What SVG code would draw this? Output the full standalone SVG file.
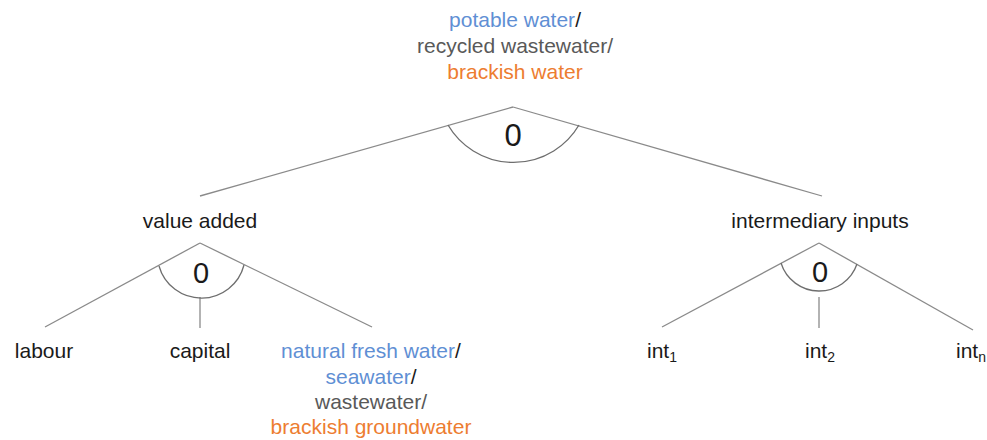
<svg xmlns="http://www.w3.org/2000/svg" width="987" height="440" viewBox="0 0 987 440">
<style>
text{font-family:"Liberation Sans",Arial,sans-serif;font-size:21px;fill:#1a1a1a;text-anchor:middle}
.z{font-size:29px}
.zt{font-size:31px}
.b{fill:#5f8fd4}
.g{fill:#595959}
.o{fill:#ed7d31}
.sub{font-size:14px}
line,path{stroke:#8a8a8a;stroke-width:1.3;fill:none}
path.arc{stroke:#6e6e6e}
</style>
<rect width="987" height="440" fill="#fff"/>
<g id="connectors">
<line x1="513" y1="107" x2="200" y2="196"/>
<line x1="513" y1="107" x2="822" y2="196"/>
<line x1="200" y1="243" x2="45" y2="327"/>
<line x1="200" y1="297" x2="200" y2="328"/>
<line x1="200" y1="243" x2="372" y2="327"/>
<line x1="819" y1="243" x2="662" y2="327"/>
<line x1="819" y1="297" x2="819" y2="328"/>
<line x1="819" y1="243" x2="973" y2="330"/>
</g>
<g id="top">
<text x="515" y="27"><tspan class="b">potable water</tspan>/</text>
<text x="515" y="53" class="g">recycled wastewater/</text>
<text x="515" y="79" class="o">brackish water</text>
<path class="arc" d="M448,125 A76,76 0 0,0 579,125"/>
<text x="513" y="146" class="zt">0</text>
</g>
<g id="value-added">
<text x="200" y="228">value added</text>
<path class="arc" d="M159,266 A44,44 0 0,0 244,265"/>
<text x="201" y="283" class="z">0</text>
</g>
<g id="intermediary-inputs">
<text x="820" y="228">intermediary inputs</text>
<path class="arc" d="M781,263 A40,40 0 0,0 857,264"/>
<text x="820" y="282" class="z">0</text>
</g>
<g id="labour"><text x="44" y="358">labour</text></g>
<g id="capital"><text x="200" y="358">capital</text></g>
<g id="water-inputs">
<text x="371" y="358"><tspan class="b">natural fresh water</tspan>/</text>
<text x="371" y="384"><tspan class="b">seawater</tspan>/</text>
<text x="371" y="409" class="g">wastewater/</text>
<text x="371" y="434" class="o">brackish groundwater</text>
</g>
<g id="int1"><text x="662" y="358">int<tspan class="sub" dy="4">1</tspan></text></g>
<g id="int2"><text x="820" y="358">int<tspan class="sub" dy="4">2</tspan></text></g>
<g id="intn"><text x="971" y="358">int<tspan class="sub" dy="4">n</tspan></text></g>
</svg>
